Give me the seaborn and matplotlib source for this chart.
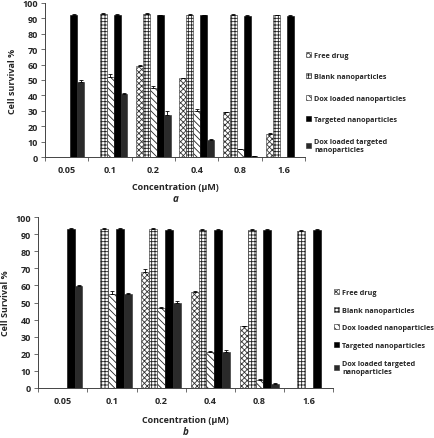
import matplotlib
matplotlib.use("Agg")
import matplotlib.pyplot as plt
import seaborn as sns
import pandas as pd
import numpy as np
from matplotlib.patches import Patch

concentrations = ["0.05", "0.1", "0.2", "0.4", "0.8", "1.6"]
series = ["Free drug", "Blank nanoparticles", "Dox loaded nanoparticles",
          "Targeted nanoparticles", "Dox loaded targeted\nnanoparticles"]

# Panel a
a_free = [0, 0, 59, 51, 29, 15]
a_blank = [0, 93, 93, 92.5, 92.5, 92]
a_dox = [0, 52, 45, 30, 5, 0]
a_targ = [92.5, 92.5, 92, 92, 91.5, 91.5]
a_doxtarg = [49, 41, 27, 11, 0.6, 0]
a_err_free = [0, 0, 0.5, 0.5, 0.5, 0.5]
a_err_blank = [0, 0.5, 0.5, 0.5, 0.5, 0.5]
a_err_dox = [0, 2, 1, 1.5, 0.5, 0]
a_err_targ = [0.5, 0.5, 0.5, 0.5, 0.5, 0.5]
a_err_doxtarg = [1, 0.5, 3, 1, 0.3, 0]

# Panel b
b_free = [0, 0, 68, 56, 36, 0]
b_blank = [0, 93, 93, 92.5, 92.5, 92]
b_dox = [0, 55, 47, 21, 4.5, 0]
b_targ = [93, 93, 92.5, 92.5, 92.5, 92.5]
b_doxtarg = [59.5, 55, 49.5, 21, 2.5, 0]
b_err_free = [0, 0, 1.5, 0.5, 0.5, 0]
b_err_blank = [0, 0.5, 0.5, 0.5, 0.5, 0.5]
b_err_dox = [0, 1.5, 0.5, 0.5, 0.5, 0]
b_err_targ = [0.5, 0.5, 0.5, 0.5, 0.5, 0.5]
b_err_doxtarg = [0.5, 0.5, 1.5, 1.5, 0.5, 0]

styles = [
    dict(facecolor="white", hatch="xxxxxx", edgecolor="#333333"),
    dict(facecolor="white", hatch="+++++", edgecolor="#222222"),
    dict(facecolor="white", hatch="\\\\\\\\\\", edgecolor="#222222"),
    dict(facecolor="#000000", hatch=None, edgecolor="#000000"),
    dict(facecolor="#2a2a2a", hatch=None, edgecolor="#2a2a2a"),
]

sns.set_theme(style="white")
plt.rcParams["font.family"] = ["Open Sans", "DejaVu Sans"]
plt.rcParams["font.weight"] = "bold"
plt.rcParams["hatch.linewidth"] = 0.6

fig = plt.figure(figsize=(4.34, 4.39), dpi=100)


def panel(rect, vals, errs, ylabel, letter, letter_y, xlab_y, leg_anchor, leg_spacing):
    ax = fig.add_axes(rect)
    rows = []
    for s, v in zip(series, vals):
        for c, y in zip(concentrations, v):
            rows.append({"conc": c, "series": s, "val": y})
    df = pd.DataFrame(rows)
    sns.barplot(data=df, x="conc", y="val", hue="series", order=concentrations,
                hue_order=series, errorbar=None, width=0.8, ax=ax,
                legend=False, linewidth=0.4)
    for cont, st, err, v in zip(ax.containers, styles, errs, vals):
        for bar, e, y in zip(cont, err, v):
            bar.set_facecolor(st["facecolor"])
            bar.set_edgecolor(st["edgecolor"])
            if st["hatch"]:
                bar.set_hatch(st["hatch"])
            if y > 0 and e > 0:
                ax.errorbar(bar.get_x() + bar.get_width() / 2, y, yerr=[[0], [e]],
                            fmt="none", ecolor="black", elinewidth=0.6,
                            capsize=1.5, capthick=0.6)
    ax.set_ylim(0, 100)
    ax.set_yticks(range(0, 101, 10))
    ax.set_xlim(-0.5, 5.5)
    ax.set_xticks(range(6))
    ax.set_xticklabels(concentrations)
    ax.set_xticks(np.arange(-0.5, 6, 1), minor=True)
    ax.tick_params(axis="x", which="major", length=0, labelsize=6.5, pad=6)
    ax.tick_params(axis="x", which="minor", length=3, width=0.6, color="#555555",
                   direction="out", bottom=True)
    ax.tick_params(axis="y", which="major", length=3, width=0.6, labelsize=6.5,
                   left=True, color="#555555", pad=2)
    for lab in ax.get_xticklabels() + ax.get_yticklabels():
        lab.set_fontweight("bold")
    for sp in ["top", "right"]:
        ax.spines[sp].set_visible(False)
    for sp in ["left", "bottom"]:
        ax.spines[sp].set_color("#444444")
        ax.spines[sp].set_linewidth(0.7)
    ax.set_ylabel(ylabel, fontsize=6.5, fontweight="bold", labelpad=4)
    ax.set_xlabel("Concentration (\u00b5M)", fontsize=6.5, fontweight="bold")
    fig.text(rect[0] + rect[2] / 2, 1 - xlab_y / 439, "Concentration (\u00b5M)",
             ha="center", va="center", fontsize=6.5, fontweight="bold")
    ax.set_xlabel("")
    fig.text(rect[0] + rect[2] / 2, 1 - letter_y / 439, letter,
             ha="center", va="center", fontsize=7, style="italic")
    handles = [Patch(facecolor=st["facecolor"], edgecolor=st["edgecolor"],
                     hatch=st["hatch"], linewidth=0.4) for st in styles]
    fig.legend(handles, series, loc="upper left", bbox_to_anchor=leg_anchor,
               bbox_transform=fig.transFigure, frameon=False,
               handlelength=0.7, handleheight=0.7, handletextpad=0.4,
               labelspacing=leg_spacing, prop={"weight": "bold", "size": 5.2})
    return ax


panel([0.104, 0.640, 0.599, 0.351],
      [a_free, a_blank, a_dox, a_targ, a_doxtarg],
      [a_err_free, a_err_blank, a_err_dox, a_err_targ, a_err_doxtarg],
      "Cell survival %", "a", 200, 188, (0.69, 0.895), 2.0)

panel([0.088, 0.114, 0.680, 0.389],
      [b_free, b_blank, b_dox, b_targ, b_doxtarg],
      [b_err_free, b_err_blank, b_err_dox, b_err_targ, b_err_doxtarg],
      "Cell Survival %", "b", 433, 421, (0.755, 0.355), 1.5)

fig.savefig("out.png", dpi=100)
